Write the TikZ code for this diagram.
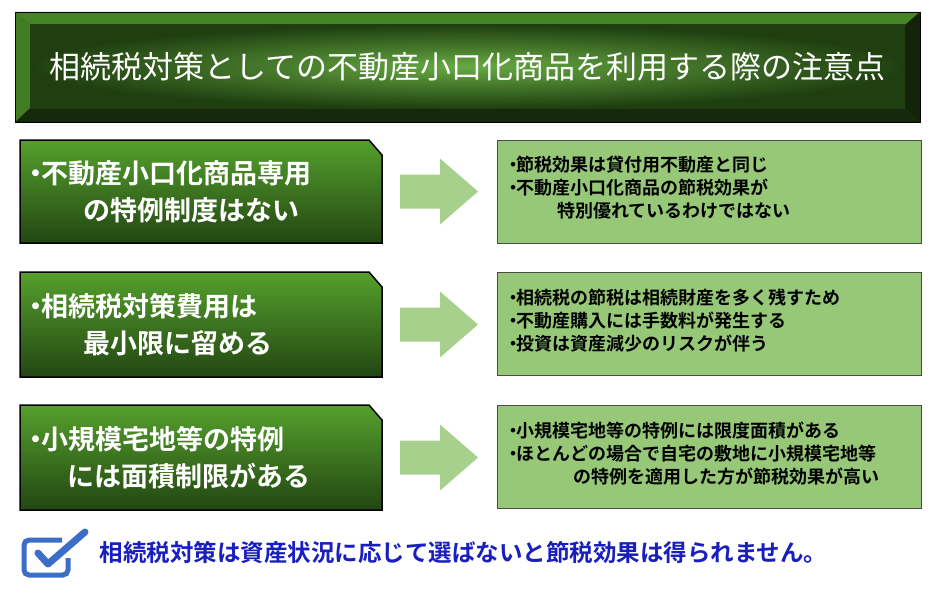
\documentclass[tikz,border=0pt]{standalone}
\usepackage{fontspec}
\newfontfamily\jp{Noto Sans CJK JP}
\newfontfamily\jpb{Noto Sans CJK JP Bold}
\definecolor{dkg}{RGB}{35,70,18}
\definecolor{mdg}{RGB}{85,160,45}
\definecolor{ltg}{RGB}{150,200,120}
\definecolor{blu}{RGB}{25,30,190}
\definecolor{ico}{RGB}{60,110,200}
\newcommand{\bt}{\kern-0.25em・\kern-0.3em}
\tikzset{
 leftbox/.style={draw=black,line width=1.5pt,top color=mdg,bottom color=dkg},
 rightbox/.style={draw=black!70,line width=1pt,fill=ltg},
 arr/.style={fill=ltg!85!white,draw=none},
 lt/.style={text=white,font=\jpb\fontsize{27}{37}\selectfont,align=left,anchor=west},
 rt/.style={text=black,font=\jpb\fontsize{18}{23}\selectfont,align=left,anchor=west},
}
\begin{document}
\begin{tikzpicture}[x=1pt,y=-1pt]
\useasboundingbox (0,0) rectangle (941,602);
% header
\fill[dkg!80!black] (15,12) rectangle (920,122);
\fill[mdg!70!dkg] (15,12)--(920,12)--(905,25)--(30,25)--cycle;
\fill[dkg!60!black] (15,122)--(920,122)--(905,108)--(30,108)--cycle;
\fill[mdg!60!dkg] (15,12)--(30,25)--(30,108)--(15,122)--cycle;
\fill[dkg!50!black] (920,12)--(905,25)--(905,108)--(920,122)--cycle;
\shade[inner color=mdg!90!white,outer color=dkg!90!black] (30,25) rectangle (905,108);
\draw[black,line width=0.8pt] (15,12) rectangle (920,122);
\node[text=white,font=\jp\fontsize{31}{36}\selectfont] (title) at (467.5,67) {相続税対策としての不動産小口化商品を利用する際の注意点};
% rows
\foreach \t/\yt/\yb/\ltxt/\rtxt in {
 1/140/243/{\bt 不動産小口化商品専用\\\hspace{2em}の特例制度はない}/{\bt 節税効果は貸付用不動産と同じ\\\bt 不動産小口化商品の節税効果が\\\hspace{2.7em}特別優れているわけではない},
 2/272/377/{\bt 相続税対策費用は\\\hspace{2em}最小限に留める}/{\bt 相続税の節税は相続財産を多く残すため\\\bt 不動産購入には手数料が発生する\\\bt 投資は資産減少のリスクが伴う},
 3/405/510/{\bt 小規模宅地等の特例\\\hspace{1.4em}には面積制限がある}/{\bt 小規模宅地等の特例には限度面積がある\\\bt ほとんどの場合で自宅の敷地に小規模宅地等\\\hspace{3.6em}の特例を適用した方が節税効果が高い}}{
 \path[leftbox] (20,\yt)--(369,\yt)--(382,\yt+15)--(382,\yb)--(20,\yb)--cycle;
 \node[lt] (l\t) at (26,{(\yt+\yb)/2}) {\ltxt};
 \node[rightbox,minimum width=424pt,minimum height=103pt,anchor=north west] (r\t) at (497,\yt) {};
 \node[rt] (rt\t) at (505,{(\yt+\yb)/2-4}) {\rtxt};
 \path[arr] (400,{(\yt+\yb)/2-17})--(440,{(\yt+\yb)/2-17})--(440,{(\yt+\yb)/2-33})--(478,{(\yt+\yb)/2})--(440,{(\yt+\yb)/2+33})--(440,{(\yt+\yb)/2+17})--(400,{(\yt+\yb)/2+17})--cycle;
}
% check icon
\draw[ico,line width=5pt,rounded corners=5pt] (62,540)--(24,540)--(24,575)--(68,575)--(68,558);
\draw[ico,line width=7pt,line cap=round,line join=round] (38,553)--(48,564)--(85,532);
\node[text=blu,font=\jpb\fontsize{23.5}{26}\selectfont,anchor=west] (concl) at (96,553) {相続税対策は資産状況に応じて選ばないと節税効果は得られません。};
\end{tikzpicture}
\end{document}
